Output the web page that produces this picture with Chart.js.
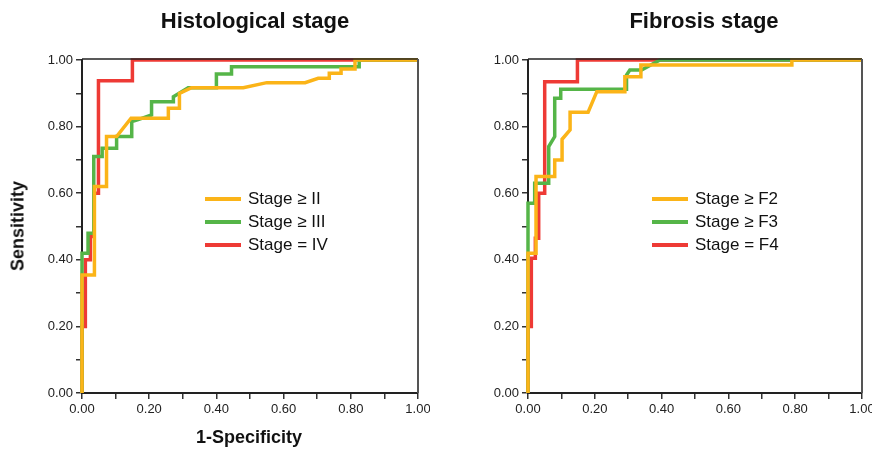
<!DOCTYPE html>
<html>
<head>
<meta charset="utf-8">
<script src="https://cdn.jsdelivr.net/npm/chart.js@4.4.0/dist/chart.umd.min.js"></script>
<style>
  body{margin:0;background:#fff;font-family:"Liberation Sans",Arial,sans-serif;}
  #wrap{position:relative;width:872px;height:450px;overflow:hidden;}
  .cv{position:absolute;top:0;}
  .title{position:absolute;top:8px;font-weight:bold;font-size:22px;color:#111;transform:translateX(-50%);white-space:nowrap;}
  .ytitle{position:absolute;left:18px;top:226px;font-weight:bold;font-size:18px;color:#111;transform:translate(-50%,-50%) rotate(-90deg);white-space:nowrap;}
  .xtitle{position:absolute;left:249px;top:427px;font-weight:bold;font-size:18px;color:#111;transform:translateX(-50%);white-space:nowrap;}
  .leg{position:absolute;font-size:17px;color:#111;white-space:nowrap;}
  .leg div{position:absolute;height:22px;line-height:22px;}
  .leg span{display:inline-block;width:36px;height:4px;vertical-align:middle;margin-right:7px;position:relative;top:-1px;}
</style>
</head>
<body>
<div id="wrap">
  <canvas id="left" class="cv" width="430" height="450" style="left:0"></canvas>
  <canvas id="right" class="cv" width="426" height="450" style="left:446px"></canvas>
  <div class="title" style="left:255px">Histological stage</div>
  <div class="title" style="left:704px">Fibrosis stage</div>
  <div class="ytitle">Sensitivity</div>
  <div class="xtitle">1-Specificity</div>
  <div class="leg" id="legL" style="left:205px;top:188px"></div>
  <div class="leg" id="legR" style="left:652px;top:188px"></div>
</div>
<script>
// ROC curves: x = 1-specificity, y = sensitivity
const histLabels = ["Stage \u2265 II", "Stage \u2265 III", "Stage = IV"];
const fibLabels = ["Stage \u2265 F2", "Stage \u2265 F3", "Stage = F4"];
const colors = ["#FBB418", "#55B548", "#EE3A35"];

const histIIx = [0,0,0.037,0.037,0.073,0.073,0.103,0.146,0.257,0.257,0.29,0.29,0.326,0.48,0.55,0.664,0.703,0.736,0.736,0.771,0.771,0.8125,0.8125,1];
const histIIy = [0,0.354,0.354,0.62,0.62,0.77,0.77,0.825,0.825,0.855,0.855,0.90,0.917,0.917,0.932,0.932,0.945,0.945,0.96,0.96,0.973,0.973,1,1];
const histIIIx = [0,0,0.018,0.018,0.035,0.035,0.06,0.06,0.103,0.103,0.148,0.148,0.165,0.207,0.207,0.272,0.272,0.316,0.40,0.40,0.445,0.445,0.825,0.825,1];
const histIIIy = [0,0.42,0.42,0.48,0.48,0.71,0.71,0.735,0.735,0.77,0.77,0.815,0.82,0.835,0.875,0.875,0.89,0.917,0.917,0.958,0.958,0.98,0.98,1,1];
const histIVx = [0,0,0.01,0.01,0.025,0.025,0.035,0.035,0.049,0.049,0.15,0.15,1];
const histIVy = [0,0.2,0.2,0.40,0.40,0.47,0.47,0.6,0.6,0.938,0.938,1,1];

const fibF2x = [0,0,0.024,0.024,0.08,0.08,0.102,0.102,0.126,0.126,0.18,0.206,0.29,0.29,0.338,0.338,0.79,0.79,1];
const fibF2y = [0,0.42,0.42,0.65,0.65,0.70,0.70,0.762,0.79,0.843,0.843,0.905,0.905,0.95,0.95,0.985,0.985,1,1];
const fibF3x = [0,0,0.02,0.02,0.062,0.062,0.08,0.08,0.098,0.098,0.295,0.295,0.305,0.34,0.395,1];
const fibF3y = [0,0.57,0.57,0.63,0.63,0.74,0.77,0.885,0.885,0.912,0.912,0.955,0.97,0.97,1,1];
const fibF4x = [0,0,0.01,0.01,0.022,0.022,0.032,0.032,0.05,0.05,0.148,0.148,1];
const fibF4y = [0,0.2,0.2,0.405,0.405,0.465,0.465,0.6,0.6,0.935,0.935,1,1];

const tickFont = {family:"'Liberation Sans', Arial, sans-serif", size:13};

function pts(xs, ys){ return xs.map((x,i)=>({x:x, y:ys[i]})); }

const framePlugin = {
  id:"frame",
  afterDraw(chart){
    const a = chart.chartArea, c = chart.ctx;
    c.save();
    c.strokeStyle="#222"; c.lineWidth=1.5;
    c.beginPath(); c.moveTo(a.left, a.top-1); c.lineTo(a.right, a.top-1); c.stroke();
    c.strokeStyle="#555"; c.lineWidth=2;
    c.beginPath(); c.moveTo(a.right, a.top-1); c.lineTo(a.right, a.bottom); c.stroke();
    c.restore();
  }
};

function axis(){
  return {
    type:"linear", min:0, max:1,
    ticks:{stepSize:0.1, color:"#222", font:tickFont, padding:3, autoSkip:false, maxRotation:0,
      callback:v => Math.round(v*10)%2===0 ? v.toFixed(2) : ""},
    grid:{drawOnChartArea:false, drawTicks:true, tickLength:6, color:"#333", lineWidth:1.5},
    border:{display:true, color:"#222", width:2}
  };
}

function makeChart(id, series, labels, padRight){
  const xs = axis(), ys = axis();
  ys.afterFit = s => { s.width = 82; };
  xs.afterFit = s => { s.height = 57; s.paddingLeft = 0; s.paddingRight = 0; };
  new Chart(document.getElementById(id), {
    type:"line",
    data:{datasets: series.map((s,i)=>({
      label:labels[i], data:pts(s[0], s[1]), borderColor:colors[i],
      borderWidth:3.5, pointRadius:0, tension:0, fill:false, clip:5
    }))},
    options:{
      responsive:false, animation:false, parsing:true,
      layout:{padding:{top:60, right:padRight, left:0, bottom:0}},
      plugins:{legend:{display:false}, tooltip:{enabled:false}},
      scales:{x:xs, y:ys}
    },
    plugins:[framePlugin]
  });
}

makeChart("left", [[histIIx,histIIy],[histIIIx,histIIIy],[histIVx,histIVy]], histLabels, 12);
makeChart("right", [[fibF2x,fibF2y],[fibF3x,fibF3y],[fibF4x,fibF4y]], fibLabels, 10);

function legend(id, labels){
  document.getElementById(id).innerHTML = labels.map((l,i)=>
    `<div style="top:${i*23}px"><span style="background:${colors[i]}"></span>${l}</div>`).join("");
}
legend("legL", histLabels);
legend("legR", fibLabels);
</script>
</body>
</html>
